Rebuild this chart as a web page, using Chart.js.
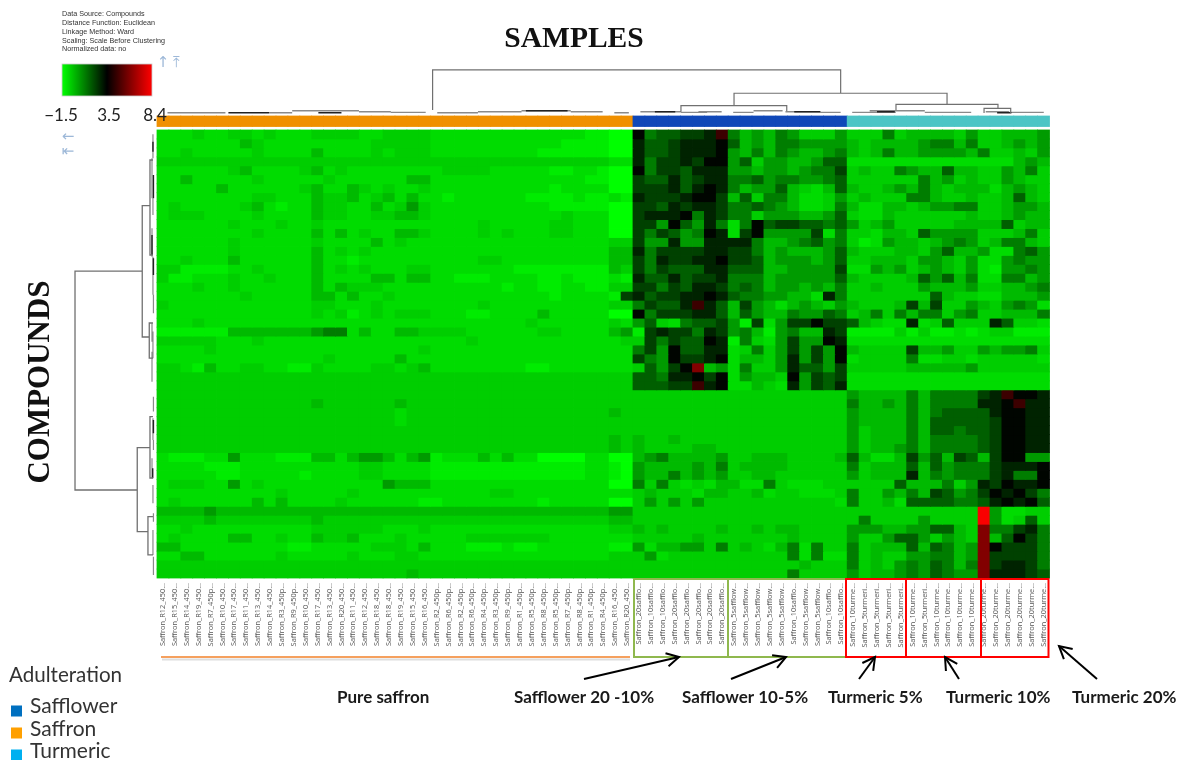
<!DOCTYPE html>
<html>
<head>
<meta charset="utf-8">
<style>
html,body{margin:0;padding:0;background:#fff;overflow:hidden}
canvas{display:block;filter:blur(0.6px)}
</style>
<script src="https://cdn.jsdelivr.net/npm/chart.js@4/dist/chart.umd.min.js"></script>
</head>
<body>
<canvas id="c" width="1180" height="760"></canvas>
<script>
// cell codes -> value on the -1.5 .. 8.4 colour scale
const levelValues = {a:-1.5,9:-1.13,8:-0.81,7:-0.54,6:-0.15,5:0.46,4:1.05,3:1.64,2:2.23,1:2.81,0:3.4,x:4.65,y:6.0,z:8.3};

const sampleGroups = ['Saffron','Safflower','Turmeric'];
const groupSizes = [40,18,17];

const saffronLabels = ['R12_450...','R15_450...','R14_450...','R19_450...','R7_450p...','R10_450...','R17_450...','R11_450...','R13_450...','R14_450...','R3_450p...','R9_450p...','R10_450...','R17_450...','R13_450...','R20_450...','R11_450...','R12_450...','R18_450...','R18_450...','R19_450...','R15_450...','R16_450...','R2_450p...','R6_450p...','R2_450p...','R6_450p...','R4_450p...','R3_450p...','R9_450p...','R1_450p...','R5_450p...','R8_450p...','R5_450p...','R7_450p...','R8_450p...','R1_450p...','R4_450p...','R16_450...','R20_450...'];
const safflowerLabels = ['20safflo...','10safflo...','10safflo...','20safflo...','20safflo...','20safflo...','20safflo...','20safflo...','5safflow...','5safflow...','5safflow...','5safflow...','5safflow...','10safflo...','5safflow...','5safflow...','10safflo...','10safflo...'];
const turmericLabels = ['10turme...','5turmeri...','5turmeri...','5turmeri...','5turmeri...','10turme...','5turmeri...','10turme...','10turme...','10turme...','10turme...','20turme...','20turme...','20turme...','20turme...','20turme...','20turme...'];

const saffronRows = [
"8887887787 8887777887 7778888888 88888899aa",
"8888888678 8888888877 7778888888 88889999aa",
"8878888878 8886888878 7778888888 88999999aa",
"7777777777 7777777777 7777777777 7777777788",
"8888887688 8876878888 8888777788 88899889aa",
"8868888878 8888788888 8668888888 88888899aa",
"8888868888 8876886787 8878888888 88898888aa",
"8888888877 8886776876 8688988888 8999989989",
"8788888768 9886778868 7578888888 88899999aa",
"8777888878 8886778877 6678888888 88887888aa",
"8888887888 7887888888 8888888788 88877888aa",
"8888888878 8886868788 6678888787 88877888aa",
"8888887888 8887888868 7888888888 8888888877",
"8888887888 8886878788 8888888888 8888888866",
"8878886888 8886889888 8888888778 8888888866",
"7799998878 8886878788 8778888888 9999999967",
"7998887887 8886888866 8668899988 8899899989",
"8887887888 8886867778 8888888889 8899889977",
"8888888788 8886686887 8888888888 8889888892",
"7888888888 8887788878 8888888788 8888888877",
"8888888888 8887879878 7778889988 88688888aa",
"8887888888 8888888888 8888888888 8788888878",
"9999996666 6665448688 6677778888 8877888865",
"7777788878 8888888888 8888887888 8888888887",
"8888788888 8888888888 8878888888 8888888888",
"8888888888 8888788888 6888888888 8888888888",
"7789688778 8997888877 8768888888 8998888888",
"7777777777 7777777777 7777777777 7777777777",
"7777777777 7777777777 7777777777 7777777777",
"7777777777 7777777777 7777777777 7777777777",
"7777777777 7776777777 6777777777 7777777777",
"7777777777 7777777777 8777777777 7777777767",
"7777777777 7777777777 8777777777 7777777777",
"7777777777 7777777777 7777777777 7777777777",
"7777777777 7777777777 7777777777 7777777767",
"7777777777 7777777777 7777777777 7777777767",
"8999885888 9996686556 8659888686 88aaaa88aa",
"8888999888 8888888778 8889999999 999999889a",
"8888899888 8898888778 8889999999 999999889a",
"8777885878 8888888885 6668888888 88888888aa",
"8888888888 7888887888 8888888877 8888888888",
"8788888868 6888878888 8899888888 88988888aa",
"6666566666 6666666666 6666666666 6666666655",
"7777677777 7776777777 7777777777 7777777766",
"8878888888 8887777778 8878888888 8888888877",
"8788886688 7886776888 7888887777 7778888888",
"6688888888 8998888877 7868889998 9988888899",
"8866888888 7888887888 7788888888 8888888877",
"7777777777 7777777777 7777777777 7777777777",
"7777777777 7777777777 7677777777 7777777777"
];
const safflowerRows = [
"0433221x4656457775","133211103656445555","133211105646456654","142212005375566533","042231115565565442",
"233132114435445543","222131014655367863","122210026374468875","223121124434568874","211104124475556653",
"225035148403223343","242354018205555284","255155111146654354","142222112246566653","241221102236555653",
"242333113336655552","133132214446555553","224231124346556564","132211013445566814","42331x136256865675",
"042221136356645534","537843325928522022","921224125469546612","724233019478525501","425033118747525250",
"245022108667515250","73520y658477513352","334110208566705232","33322x108867815231","777777777777777777",
"777777777777777777","777777777777777777","777777777777777777","777777777777777777","677677777777777777",
"677776677777777777","654666657766677776","566665647666677777","566465657766777777","474787866884788877",
"767778667768778887","757575777777777778","777777777777777777","777777777777777777","676777767767667777",
"777776777777767777","586655747678648477","758777777777748488","777777777777776777","777777777777747777"
];
const turmericRows = [
"77747666675776665","67666654464776565","67646655556477675","88888888888888656","76774566366775647",
"77777746576775677","67765646766686567","76777446776776367","68866765544776556","78867777776776566",
"57657777766663766","77866735555777647","79856676545764467","67776675366588435","77666755675885455",
"88565765675895545","67777635364884465","77677756665776654","77777773677886665","67776262775675458",
"76474644754776664","36788187377713778","99997979989877999","88888888888888888","67777266577565547",
"87777488778777778","77777666665777777","88888888888888888","88888888888888888","5666646444421x001",
"46656464444110x11","56666464333310011","56666463333320011","57666463343320011","57666464444320011",
"57665464444320011","36886253623620055","47666363544421110","57666164544421440","77773666475120110",
"47756462354201024","47768333344310103","77777777777z58877","74777757777z58737","55566553367y44214",
"57753357567y63024","47666363465y02224","47677554465y22224","47675453464y21124","57665453455y11123"
];

// dendrograms in column / row units: [a, aEnd, b, bEnd, join]
const topMerges = [[23.16,-2.23,57.45,-4.10,-6.70],[48.49,-2.71,66.39,-2.87,-4.10],[44.03,-2.04,52.92,-2.12,-2.71],[62.1,-2.23,70.67,-2.42,-2.87],[69.5,-1.9,71.74,-1.9,-2.42]];
const leftMerges = [[15.74,-1.24,40.18,-1.66,-6.89],[8.45,-0.59,23.10,-0.65,-1.24],[35.46,-0.59,44.83,-0.76,-1.66],[3.35,-0.34,13.95,-0.34,-0.59],[21.54,-0.34,25.45,-0.34,-0.65],[32.0,-0.34,38.84,-0.34,-0.59],[43.16,-0.34,47.43,-0.34,-0.76]];
const topLeaves = [[0.88,5.75,-1.93],[9.41,11.36,-1.93],[11.36,16.97,-2.15],[16.97,19.65,-2.04],[19.65,22.58,-1.97],[23.55,26.97,-1.93],[26.97,30.63,-2.04],[30.63,34.77,-2.15],[34.77,37.45,-2.04],[38.43,39.65,-1.93],[40.62,44.04,-2.04],[44.04,46.23,-1.97],[45.5,47.45,-2.04],[48.42,50.13,-1.97],[50.13,52.57,-2.15],[52.81,55.74,-2.04],[55.74,57.45,-1.97],[58.42,62.08,-1.97],[59.89,64.52,-2.15],[64.52,68.42,-1.97],[69.64,71.59,-2.04],[71.59,74.52,-1.97]];
const topLeavesDark = [[6.0,9.41,-1.93],[13.56,15.5,-1.93],[31,34.5,-2.15],[41.84,43.55,-2.04],[53.55,55.74,-2.04],[60.5,62,-2.04],[70.6,71.8,-1.93]];
const leftLeaves = [[0.48,3.16,-0.34],[3.16,7.63,-0.42],[7.63,9.49,-0.34],[10.97,14.14,-0.42],[14.14,18.4,-0.34],[18.4,20.46,-0.3],[21.58,23.62,-0.42],[22.5,25.48,-0.34],[24.74,28.09,-0.42],[29.76,31.43,-0.3],[32.18,34.6,-0.34],[34.6,35.71,-0.3],[36.64,38.87,-0.42],[39.62,41.66,-0.34],[42.78,43.71,-0.3],[44.64,47.43,-0.34],[47.62,49.66,-0.3]];
const leftLeavesDark = [[1.3,2.42,-0.34],[5.02,7.63,-0.3],[11.72,13.95,-0.42],[14.32,16.18,-0.3],[32.36,33.85,-0.3],[37.76,38.87,-0.36]];

function cellColor(v){
  if(v<=3.5){return 'rgb(0,'+Math.round(255*(3.5-v)/5)+',0)';}
  return 'rgb('+Math.round(255*(v-3.5)/4.9)+',0,0)';
}
const sampleLabels = saffronLabels.concat(safflowerLabels,turmericLabels).map(s=>'Saffron_'+s);
const rowCount = saffronRows.length;

const heatDatasets = [];
for(let r=0;r<rowCount;r++){
  const codes = saffronRows[r].replace(/ /g,'')+safflowerRows[r]+turmericRows[r];
  const vals = Array.from(codes).map(ch=>levelValues[ch]);
  heatDatasets.push({
    type:'bar',grouped:false,clip:false,barPercentage:1,categoryPercentage:1,borderWidth:0,inflateAmount:0.4,
    data:sampleLabels.map(()=>[r,r+1]),
    backgroundColor:vals.map(cellColor)
  });
}
const groupColors = ['#f09000','#0f47b8','#4cc5c5'];
const stripColors = [];
groupSizes.forEach((n,i)=>{for(let k=0;k<n;k++)stripColors.push(groupColors[i]);});
const stripDataset = {type:'bar',grouped:false,clip:false,barPercentage:1,categoryPercentage:1,borderWidth:0,inflateAmount:0.4,
  data:sampleLabels.map(()=>[-1.56,-0.39]),backgroundColor:stripColors};

function lineDs(points,color,width){
  return {type:'line',xAxisID:'xd',yAxisID:'y',clip:false,data:points,borderColor:color,borderWidth:width,pointRadius:0,tension:0,spanGaps:false,fill:false};
}
const gap={x:null,y:null};
const topPts=[];topMerges.forEach(m=>topPts.push({x:m[0],y:m[1]},{x:m[0],y:m[4]},{x:m[2],y:m[4]},{x:m[2],y:m[3]},gap));
const leftPts=[];leftMerges.forEach(m=>leftPts.push({x:m[1],y:m[0]},{x:m[4],y:m[0]},{x:m[4],y:m[2]},{x:m[3],y:m[2]},gap));
const hSeg=l=>{const p=[];l.forEach(s=>p.push({x:s[0],y:s[2]},{x:s[1],y:s[2]},gap));return p;};
const vSeg=l=>{const p=[];l.forEach(s=>p.push({x:s[2],y:s[0]},{x:s[2],y:s[1]},gap));return p;};

const decorPlugin={id:'decor',afterDraw(chart){
  const c=chart.ctx;c.save();
  const text=(s,x,y,font,color,align)=>{c.font=font;c.fillStyle=color;c.textAlign=align||'left';c.textBaseline='middle';c.fillText(s,x,y);};
  // info block
  ['Data Source: Compounds','Distance Function: Euclidean','Linkage Method: Ward','Scaling: Scale Before Clustering','Normalized data: no'].forEach((s,i)=>
    text(s,62,14.5+i*8.75,'7.2px "Liberation Sans"','#333'));
  // colour bar
  const g=c.createLinearGradient(62,0,152,0);g.addColorStop(0,'#00ff00');g.addColorStop(0.5,'#000');g.addColorStop(1,'#ff0000');
  c.fillStyle=g;c.fillRect(62,64,90,32);c.strokeStyle='#ccc';c.lineWidth=0.8;c.strokeRect(62,64,90,32);
  text('\u22121.5',61,116,'17px Lato','#222','center');
  text('3.5',109,116,'17px Lato','#222','center');
  text('8.4',155,116,'17px Lato','#222','center');
  // collapse icons
  text('\u2191',163,63,'15px "DejaVu Sans"','#9db8d8','center');
  text('\u2912',176,63,'15px "DejaVu Sans"','#9db8d8','center');
  text('\u2190',68,137,'15px "DejaVu Sans"','#9db8d8','center');
  text('\u21E4',68,152,'15px "DejaVu Sans"','#9db8d8','center');
  // titles
  text('SAMPLES',574,39,'bold 29.5px "Liberation Serif"','#111','center');
  c.save();c.translate(41,382);c.rotate(-Math.PI/2);text('COMPOUNDS',0,0,'bold 31px "Liberation Serif"','#111','center');c.restore();
  // sample group boxes
  c.lineWidth=2;
  c.strokeStyle='#dedede';c.beginPath();c.moveTo(162,659.5);c.lineTo(630,659.5);c.stroke();
  c.strokeStyle='#f5a05e';c.beginPath();c.moveTo(161,657);c.lineTo(630,657);c.stroke();
  c.strokeStyle='#8fb84e';[[634,728],[728,846]].forEach(b=>c.strokeRect(b[0],579,b[1]-b[0],78));
  c.strokeStyle='#ff0000';[[846,906],[906,981],[981,1048.5]].forEach(b=>c.strokeRect(b[0],579,b[1]-b[0],78));
  // arrows
  const arrow=(x0,y0,x1,y1)=>{c.strokeStyle='#000';c.lineWidth=2;c.beginPath();c.moveTo(x0,y0);c.lineTo(x1,y1);c.stroke();
    const a=Math.atan2(y1-y0,x1-x0),L=14;c.beginPath();c.moveTo(x1-L*Math.cos(a-0.5),y1-L*Math.sin(a-0.5));c.lineTo(x1,y1);c.lineTo(x1-L*Math.cos(a+0.5),y1-L*Math.sin(a+0.5));c.stroke();};
  arrow(584,679,679,657);arrow(731,679,786,657);arrow(859,679,875,657);arrow(959,679,945,657);arrow(1097,679,1059,646);
  // captions
  [['Pure saffron',337],['Safflower 20 -10%',514],['Safflower 10-5%',682],['Turmeric 5%',828],['Turmeric 10%',946],['Turmeric 20%',1072]].forEach(t=>
    text(t[0],t[1],698,'bold 17px Lato','#1a1a1a'));
  // legend
  text('Adulteration',9,675,'20.6px Lato','#333');
  [['Safflower','#0070c0',711,706],['Saffron','#ffa000',733,729],['Turmeric','#00b0f0',755,751]].forEach(l=>{
    c.fillStyle=l[1];c.fillRect(11,l[2]-5.5,11,11);
    text(l[0],30,l[3],'21px Lato','#333');
  });
  c.restore();
}};

new Chart(document.getElementById('c'),{
  type:'bar',
  data:{labels:sampleLabels,datasets:[
    stripDataset,...heatDatasets,
    lineDs(topPts,'#707070',1.2),
    lineDs(leftPts,'#707070',1.3),
    lineDs(hSeg(topLeavesDark),'#222',1.4),
    lineDs(vSeg(leftLeavesDark),'#222',1.4),
    lineDs(hSeg(topLeaves),'#8a8a8a',1.4),
    lineDs(vSeg(leftLeaves),'#8a8a8a',1.2)
  ]},
  options:{
    responsive:false,animation:false,devicePixelRatio:1,events:[],
    layout:{padding:{left:157,right:130.5,top:130,bottom:100}},
    plugins:{legend:{display:false},tooltip:{enabled:false},title:{display:false}},
    scales:{
      x:{type:'category',offset:true,grid:{display:false,drawTicks:false},border:{display:false},
        afterFit(s){s.height=82;},
        ticks:{autoSkip:false,minRotation:90,maxRotation:90,padding:5,color:'#555',font:{family:'"Open Sans"',size:7.4}}},
      xd:{type:'linear',axis:'x',position:'bottom',display:false,offset:false,min:0,max:75},
      y:{type:'linear',reverse:true,min:0,max:rowCount,display:false}
    }
  },
  plugins:[decorPlugin]
});
</script>
</body>
</html>
